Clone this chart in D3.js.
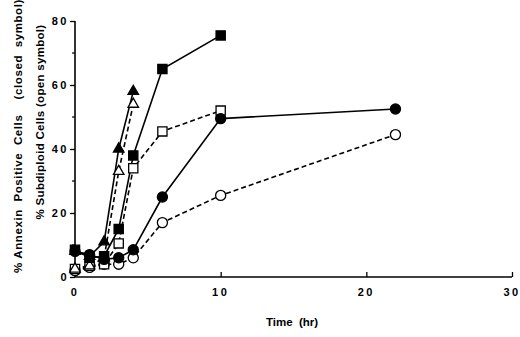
<!DOCTYPE html>
<html>
<head>
<meta charset="utf-8">
<script src="https://cdn.jsdelivr.net/npm/d3@7"></script>
<style>
  body { margin: 0; background: #fff; }
  svg text { font-family: "Liberation Sans", Arial, sans-serif; font-weight: bold; fill: #000; }
</style>
</head>
<body>
<div id="chart"></div>
<script>
// time points (hr) and values (%)
var triTimes = [0, 1, 2, 3, 4];
var sqTimes = [0, 1, 2, 3, 4, 6, 10];
var circTimes = [0, 1, 2, 3, 4, 6, 10, 22];

var triClosed = [8, 6.5, 11, 40, 58];
var triOpen = [2.5, 3.5, 6, 33, 54];
var sqClosed = [8.5, 6, 6.5, 15, 38, 65, 75.5];
var sqOpen = [2.5, 3.5, 4, 10.5, 34, 45.5, 52];
var circClosed = [8, 7, 5.5, 6, 8.5, 25, 49.5, 52.5];
var circOpen = [2, 3, 4, 4, 6, 17, 25.5, 44.5];

var xTicks = [0, 10, 20, 30];
var yTicks = [0, 20, 40, 60, 80];
var yMinor = [10, 30, 50, 70];

var series = [
  {t: circTimes, v: circOpen, shape: 'circle', filled: false},
  {t: sqTimes, v: sqOpen, shape: 'square', filled: false},
  {t: triTimes, v: triOpen, shape: 'triangle', filled: false},
  {t: circTimes, v: circClosed, shape: 'circle', filled: true},
  {t: sqTimes, v: sqClosed, shape: 'square', filled: true},
  {t: triTimes, v: triClosed, shape: 'triangle', filled: true}
];

var width = 520, height = 337;
var margin = {top: 21, right: 8, bottom: 61, left: 75};

var x = d3.scaleLinear().domain([0, 30]).range([margin.left, width - margin.right]);
var y = d3.scaleLinear().domain([0, 80]).range([height - margin.bottom + 1, margin.top]);

var svg = d3.select('#chart').append('svg')
  .attr('width', width)
  .attr('height', height);

// axes
var xAxis = svg.append('g')
  .attr('transform', 'translate(0,' + y(0) + ')')
  .call(d3.axisTop(x).tickValues(xTicks).tickSize(5).tickFormat(''));
xAxis.select('.domain').attr('stroke-width', 1.6).attr('d', 'M' + x(0) + ',0H' + x(30));
xAxis.selectAll('line').attr('stroke-width', 1.3);

svg.append('g')
  .selectAll('text.xt')
  .data(xTicks)
  .enter().append('text')
  .attr('class', 'xt')
  .attr('x', function (d) { return x(d); })
  .attr('y', y(0) + 19)
  .attr('text-anchor', 'middle')
  .attr('font-size', 11)
  .attr('letter-spacing', 2.5)
  .text(function (d) { return d; });

var yAxis = svg.append('g')
  .attr('transform', 'translate(' + x(0) + ',0)')
  .call(d3.axisLeft(y).tickValues(yTicks).tickSize(5).tickFormat(''));
yAxis.select('.domain').attr('stroke-width', 1.6).attr('d', 'M0,' + y(80) + 'V' + y(0));
yAxis.selectAll('line').attr('stroke-width', 1.3);

svg.append('g')
  .selectAll('line')
  .data(yMinor)
  .enter().append('line')
  .attr('x1', x(0) - 3)
  .attr('x2', x(0))
  .attr('y1', function (d) { return y(d); })
  .attr('y2', function (d) { return y(d); })
  .attr('stroke', '#000')
  .attr('stroke-width', 1.2);

svg.append('g')
  .selectAll('text')
  .data(yTicks)
  .enter().append('text')
  .attr('x', x(0) - 6)
  .attr('y', function (d) { return y(d) + 4; })
  .attr('text-anchor', 'end')
  .attr('font-size', 11)
  .attr('letter-spacing', 2.5)
  .text(function (d) { return d; });

// axis titles
svg.append('text')
  .attr('x', 292)
  .attr('y', 326)
  .attr('text-anchor', 'middle')
  .attr('font-size', 11.5)
  .attr('xml:space', 'preserve')
  .text('Time  (hr)');

svg.append('text')
  .attr('transform', 'translate(22,136)rotate(-90)')
  .attr('text-anchor', 'middle')
  .attr('font-size', 11.5)
  .attr('letter-spacing', 0.6)
  .attr('xml:space', 'preserve')
  .text('% Annexin  Positive  Cells    (closed  symbol)');

svg.append('text')
  .attr('transform', 'translate(44,122)rotate(-90)')
  .attr('text-anchor', 'middle')
  .attr('font-size', 11.5)
  .attr('letter-spacing', 0.3)
  .attr('xml:space', 'preserve')
  .text('% Subdiploid Cells (open symbol)');

// lines and symbols
var line = d3.line()
  .x(function (d) { return x(d[0]); })
  .y(function (d) { return y(d[1]); });

var symType = {circle: d3.symbolCircle, square: d3.symbolSquare, triangle: d3.symbolTriangle};
var symSize = {circle: 80, square: 85, triangle: 48};

series.forEach(function (s) {
  var pts = s.t.map(function (t, i) { return [t, s.v[i]]; });
  svg.append('path')
    .datum(pts)
    .attr('fill', 'none')
    .attr('stroke', '#000')
    .attr('stroke-width', 1.6)
    .attr('stroke-dasharray', s.filled ? null : '5,3')
    .attr('d', line);
});

series.forEach(function (s) {
  var pts = s.t.map(function (t, i) { return [t, s.v[i]]; });
  svg.append('g')
    .selectAll('path')
    .data(pts)
    .enter().append('path')
    .attr('transform', function (d) { return 'translate(' + x(d[0]) + ',' + y(d[1]) + ')'; })
    .attr('d', d3.symbol().type(symType[s.shape]).size(symSize[s.shape]))
    .attr('fill', s.filled ? '#000' : '#fff')
    .attr('stroke', '#000')
    .attr('stroke-width', 1.3);
});
</script>
</body>
</html>
